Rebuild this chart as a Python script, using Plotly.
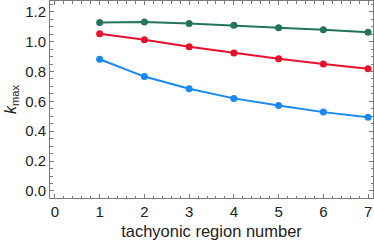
import plotly.graph_objects as go

regions = [1, 2, 3, 4, 5, 6, 7]
green_vals = [1.128, 1.132, 1.122, 1.110, 1.093, 1.079, 1.063]
red_vals = [1.052, 1.012, 0.966, 0.924, 0.886, 0.850, 0.818]
blue_vals = [0.882, 0.766, 0.684, 0.620, 0.572, 0.528, 0.494]

x_ticks = [0, 1, 2, 3, 4, 5, 6, 7]
y_ticks = [0.0, 0.2, 0.4, 0.6, 0.8, 1.0, 1.2]

series = [
    (green_vals, "rgb(35,116,90)"),
    (red_vals, "rgb(232,16,45)"),
    (blue_vals, "rgb(22,138,240)"),
]

FONT = "Liberation Sans, Arial, sans-serif"

fig = go.Figure()
for vals, col in series:
    fig.add_trace(go.Scatter(
        x=regions, y=vals, mode="lines+markers",
        line=dict(color=col, width=2),
        marker=dict(color=col, size=7),
        showlegend=False, cliponaxis=False,
    ))

axis_common = dict(
    showline=True, linecolor="#7a7a7a", linewidth=1, mirror="allticks",
    ticks="inside", ticklen=4, tickcolor="#7a7a7a", tickwidth=1,
    showgrid=False, zeroline=False, automargin=False,
    tickfont=dict(family=FONT, size=15, color="#222"),
)

fig.update_xaxes(
    **axis_common,
    range=[-0.11, 7.11],
    tickvals=x_ticks,
    minor=dict(dtick=0.2, ticks="inside", ticklen=2.5, tickcolor="#7a7a7a", showgrid=False),
    title=dict(text="tachyonic region number", standoff=6,
               font=dict(family=FONT, size=16.5, color="#222")),
)
fig.update_yaxes(
    **axis_common,
    range=[-0.047, 1.272],
    tickvals=y_ticks,
    tickformat=".1f",
    minor=dict(dtick=0.05, ticks="inside", ticklen=2.5, tickcolor="#7a7a7a", showgrid=False),
    title=dict(text="<i>k</i><sub>max</sub>", standoff=4,
               font=dict(family=FONT, size=16, color="#222")),
)

fig.update_layout(
    width=374, height=245,
    margin=dict(l=50, r=1, t=1, b=47),
    plot_bgcolor="white", paper_bgcolor="white",
)

fig.write_html(
    "out.html",
    config={"displayModeBar": False},
    post_script="document.body.style.margin='0';document.body.style.overflow='hidden';",
)
